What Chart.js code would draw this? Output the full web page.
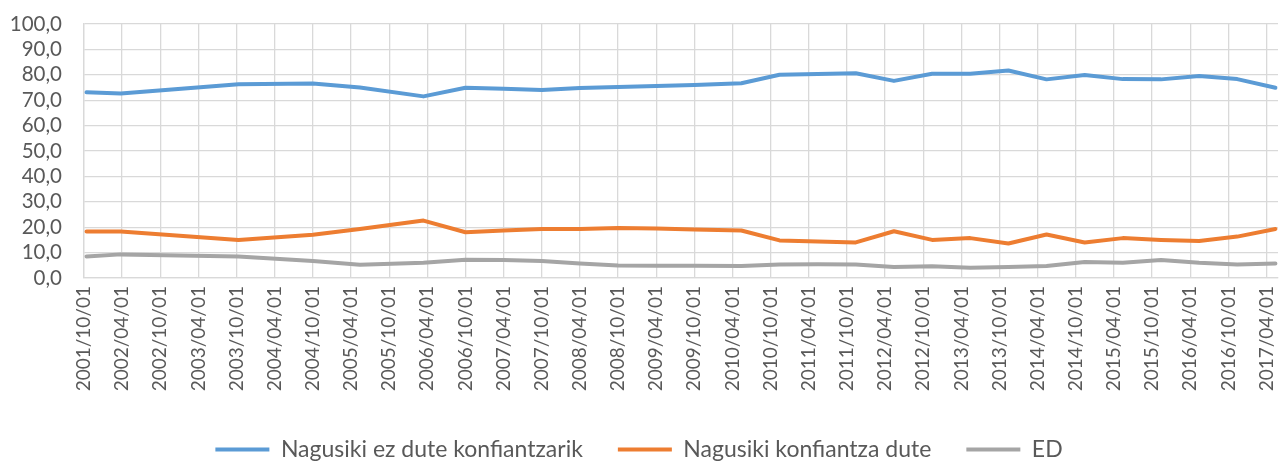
<!DOCTYPE html>
<html>
<head>
<meta charset="utf-8">
<script src="https://cdn.jsdelivr.net/npm/chart.js@4.4.1/dist/chart.umd.min.js"></script>
<style>
  body { margin: 0; background: #fff; }
  .chart-box { width: 1281px; height: 461px; }
</style>
</head>
<body>
<div class="chart-box"><canvas id="myChart"></canvas></div>
<script>
// survey dates (date axis, so points are not always on a tick)
let surveyDates = [
  '2001/10/13', '2002/03/25', '2003/10/10', '2004/10/01', '2005/05/13',
  '2006/03/13', '2006/10/01', '2007/04/01', '2007/10/01', '2008/04/01',
  '2008/10/01', '2009/04/01', '2009/10/01', '2010/05/13', '2010/11/13',
  '2011/05/13', '2011/11/13', '2012/05/13', '2012/11/13', '2013/05/13',
  '2013/11/13', '2014/05/13', '2014/11/13', '2015/05/13', '2015/11/13',
  '2016/05/13', '2016/11/13', '2017/05/13'
];

let ezKonfiantza = [
  73.1, 72.6, 76.3, 76.6, 75.0, 71.5, 74.9, 74.5, 74.0, 74.8,
  75.2, 75.6, 76.0, 76.7, 80.0, 80.3, 80.6, 77.6, 80.4, 80.4,
  81.7, 78.2, 79.9, 78.3, 78.2, 79.5, 78.3, 74.9
];

let konfiantza = [
  18.3, 18.3, 15.0, 17.0, 19.3, 22.6, 18.0, 18.7, 19.3, 19.3,
  19.7, 19.5, 19.1, 18.7, 14.8, 14.4, 14.0, 18.4, 15.0, 15.7,
  13.6, 17.1, 14.0, 15.7, 15.0, 14.6, 16.3, 19.3
];

let ed = [
  8.5, 9.3, 8.5, 6.7, 5.2, 6.0, 7.2, 7.1, 6.7, 5.7,
  4.9, 4.8, 4.8, 4.7, 5.3, 5.4, 5.3, 4.3, 4.6, 4.0,
  4.3, 4.7, 6.3, 6.0, 7.1, 6.0, 5.3, 5.7
];

let tickLabels = [
  '2001/10/01', '2002/04/01', '2002/10/01', '2003/04/01', '2003/10/01',
  '2004/04/01', '2004/10/01', '2005/04/01', '2005/10/01', '2006/04/01',
  '2006/10/01', '2007/04/01', '2007/10/01', '2008/04/01', '2008/10/01',
  '2009/04/01', '2009/10/01', '2010/04/01', '2010/10/01', '2011/04/01',
  '2011/10/01', '2012/04/01', '2012/10/01', '2013/04/01', '2013/10/01',
  '2014/04/01', '2014/10/01', '2015/04/01', '2015/10/01', '2016/04/01',
  '2016/10/01', '2017/04/01'
];

let seriesNames = ['Nagusiki ez dute konfiantzarik', 'Nagusiki konfiantza dute', 'ED'];

// months counted from the first tick (2001/10/01)
function monthsFrom(d) {
  let p = d.split('/').map(Number);
  return (p[0] - 2001) * 12 + (p[1] - 10) + (p[2] - 1) / 30.4;
}

function toPoints(values) {
  return values.map((v, i) => ({ x: monthsFrom(surveyDates[i]), y: v }));
}

let textColor = '#595959';
let gridColor = '#d9d9d9';

// push the legend row a bit lower, like the original
let legendDown = {
  id: 'legendDown',
  beforeInit(chart) {
    let legend = chart.legend;
    let fit = legend.fit;
    legend.fit = function () {
      fit.call(legend);
      legend.height -= 10;
    };
  }
};

let myChart = document.getElementById('myChart').getContext('2d');

let trustChart = new Chart(myChart, {
  type: 'line',
  data: {
    datasets: [{
      label: seriesNames[0],
      data: toPoints(ezKonfiantza),
      borderColor: '#5b9bd5',
      backgroundColor: '#5b9bd5',
    }, {
      label: seriesNames[1],
      data: toPoints(konfiantza),
      borderColor: '#ed7d31',
      backgroundColor: '#ed7d31',
    }, {
      label: seriesNames[2],
      data: toPoints(ed),
      borderColor: '#a5a5a5',
      backgroundColor: '#a5a5a5',
    }],
  },
  options: {
    responsive: true,
    maintainAspectRatio: false,
    animation: false,
    datasets: {
      line: {
        borderWidth: 4,
        pointRadius: 0,
        tension: 0,
        borderCapStyle: 'round',
        borderJoinStyle: 'round',
      }
    },
    layout: {
      padding: { top: 24, right: 3, left: 0, bottom: 0 }
    },
    scales: {
      x: {
        type: 'linear',
        min: 0,
        max: 187.8,
        grid: { color: gridColor, lineWidth: 1.3, drawTicks: false },
        border: { color: gridColor, width: 1.3 },
        ticks: {
          stepSize: 6,
          autoSkip: false,
          includeBounds: false,
          minRotation: 90,
          maxRotation: 90,
          padding: 8,
          color: textColor,
          font: { family: 'Lato', size: 19 },
          callback: (v) => tickLabels[v / 6],
        },
        afterFit: (s) => {
          s.height = 125;
          s.paddingLeft = 0;
          s.paddingRight = 0;
        }
      },
      y: {
        min: 0,
        max: 100,
        grid: { color: gridColor, lineWidth: 1.3, drawTicks: false },
        border: { color: gridColor, width: 1.3 },
        ticks: {
          stepSize: 10,
          autoSkip: false,
          padding: 22,
          color: textColor,
          font: { family: 'Lato', size: 20.5 },
          callback: (v) => v.toFixed(1).replace('.', ','),
        },
        afterFit: (s) => {
          s.width = 84;
          s.paddingTop = 0;
          s.paddingBottom = 0;
        }
      }
    },
    plugins: {
      legend: {
        position: 'bottom',
        labels: {
          boxWidth: 54,
          boxHeight: 4,
          padding: 35,
          color: textColor,
          font: { family: 'Lato', size: 23 },
          generateLabels(chart) {
            let items = Chart.defaults.plugins.legend.labels.generateLabels(chart);
            items.forEach((it) => { it.lineWidth = 0; });
            return items;
          }
        }
      },
      tooltip: { enabled: false }
    }
  },
  plugins: [legendDown]
});
</script>
</body>
</html>
